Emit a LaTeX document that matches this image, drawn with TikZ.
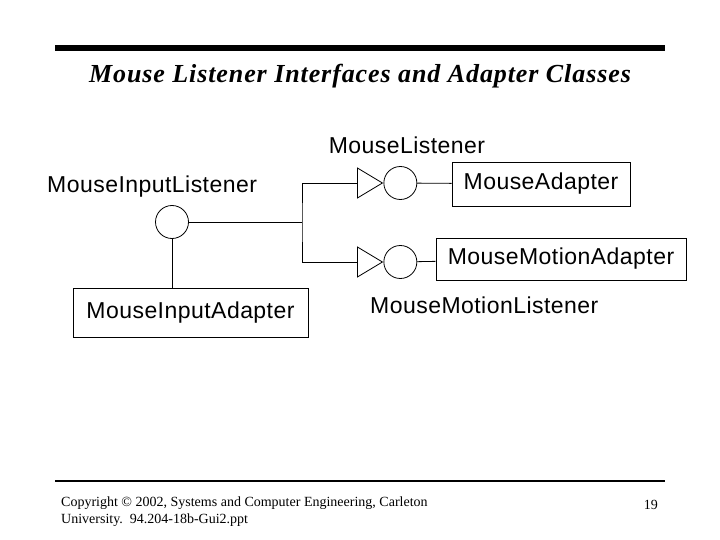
\documentclass[tikz,border=0pt]{standalone}
\usepackage{fontspec}
\usetikzlibrary{shapes.geometric, positioning}
\setmainfont{Liberation Serif}
\newfontfamily\labelfont[LetterSpace=2]{Liberation Sans}
\newfontfamily\titlefont[LetterSpace=3.5]{Liberation Serif}
\tikzstyle{link}     = [line width=0.8pt]
\tikzstyle{iface}    = [link, draw, circle, minimum size=33pt, inner sep=0pt]
\tikzstyle{inherit}  = [link, draw, isosceles triangle, isosceles triangle stretches, shape border rotate=0, minimum width=30pt, minimum height=25pt, inner sep=0pt]
\tikzstyle{classbox} = [link, draw, rectangle, inner sep=0pt, font=\labelfont\fontsize{23}{27}\selectfont]
\tikzstyle{ifname}   = [inner sep=0pt, font=\labelfont\fontsize{23}{27}\selectfont]

\begin{document}
\begin{tikzpicture}[x=1pt, y=-1pt]
\useasboundingbox (0,0) rectangle (720,540);

% header
\draw[line width=6pt] (55,48) -- (665,48);
\node[inner sep=0pt, font=\titlefont\bfseries\itshape\fontsize{26}{30}\selectfont] (title) at (360,76) {Mouse Listener Interfaces and Adapter Classes};

% interfaces
\node[iface] (milc) at (172,222) {};
\node[ifname, anchor=west] (mil) at (47,187) {MouseInputListener};

\coordinate (fork) at (302,222);
\node[inherit, anchor=west] (tup) at (357,183) {};
\node[inherit, anchor=west] (tlo) at (357,262) {};
\node[iface, right=0pt of tup.apex] (cup) {};
\node[iface, right=0pt of tlo.apex] (clo) {};

\node[ifname] (ml)  at (407,145) {MouseListener};
\node[ifname, anchor=west] (mml) at (370,305) {MouseMotionListener};

% adapter classes
\node[classbox, minimum width=178pt, minimum height=44pt] (ma)  at (541,184) {MouseAdapter};
\node[classbox, minimum width=250pt, minimum height=42pt] (mma) at (561,259) {MouseMotionAdapter};
\node[classbox, minimum width=235pt, minimum height=49pt] (mia) at (190.5,312.5) {MouseInputAdapter};

% connectors
\draw[link] (milc) -- (fork);
\draw[link] (tup.west) -| (fork) |- (tlo.west);
\draw[link] (cup) -- (ma);
\draw[link] (clo) -- (mma);
\draw[link] (milc) -- (milc |- mia.north);

% footer
\draw[line width=2.5pt] (55,481) -- (665,481);
\node[inner sep=0pt, anchor=north west, align=left, font=\fontsize{14}{17}\selectfont] (copy) at (61,496.5) {Copyright \textcopyright{} 2002, Systems and Computer Engineering, Carleton\\University.\ \ 94.204-18b-Gui2.ppt};
\node[inner sep=0pt, anchor=base east, font=\fontsize{14}{17}\selectfont] (page) at (658,509) {19};

\end{tikzpicture}
\end{document}
